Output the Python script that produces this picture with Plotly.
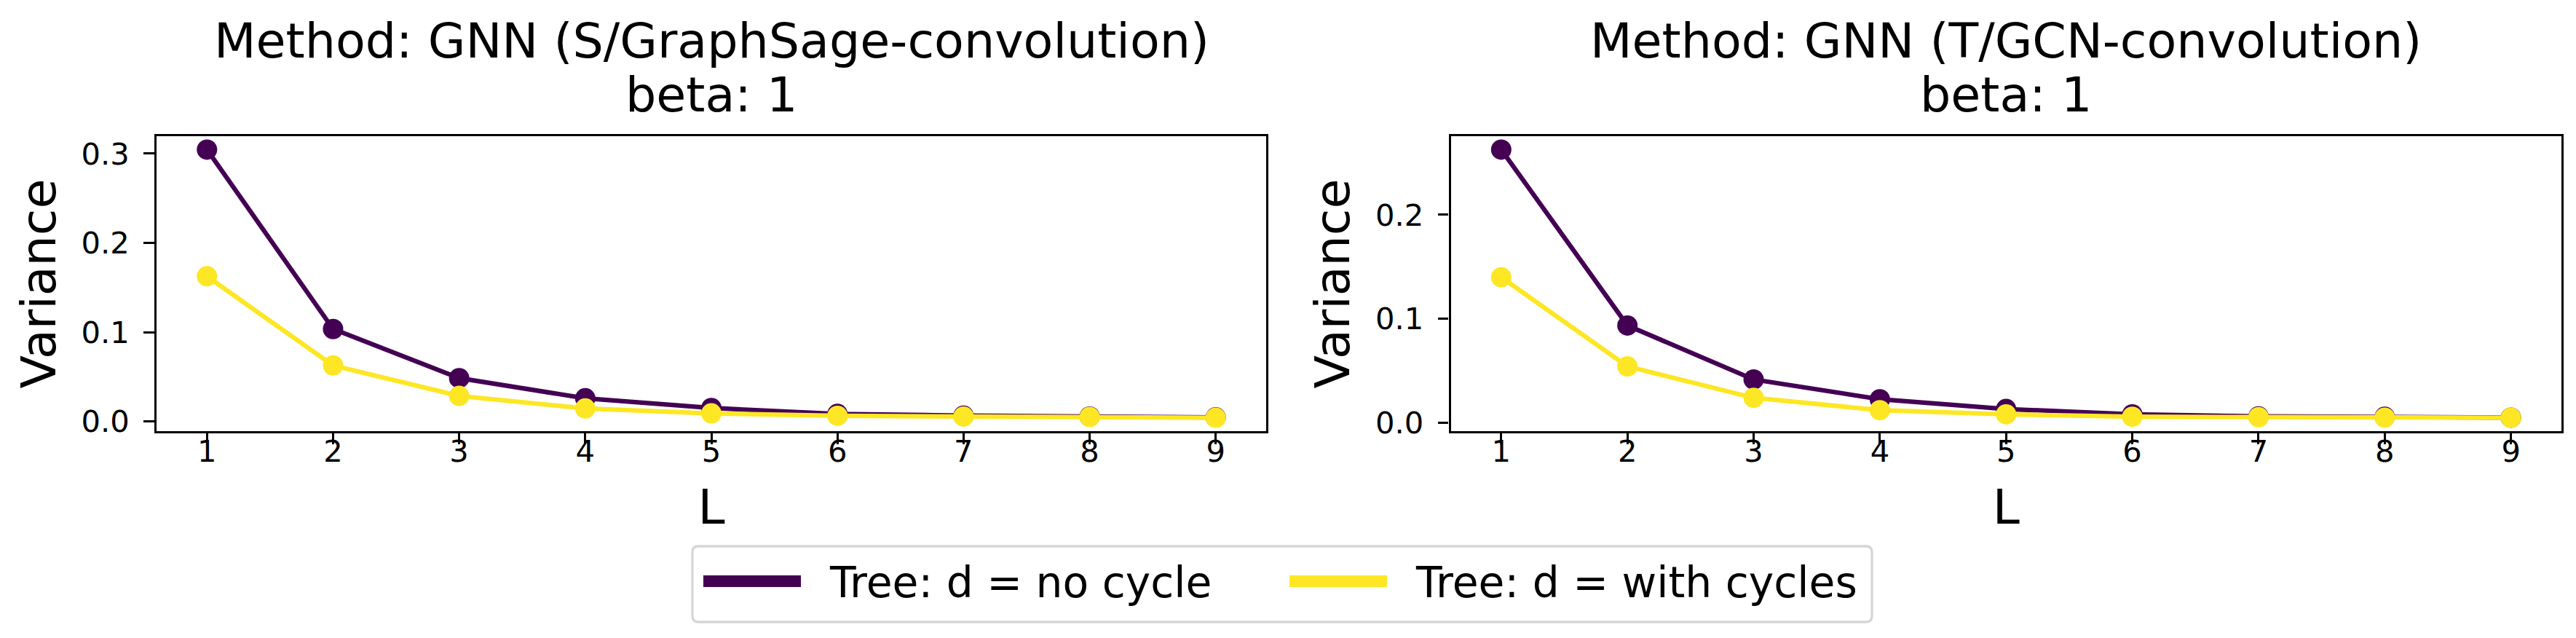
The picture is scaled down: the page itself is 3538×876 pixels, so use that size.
import plotly.graph_objects as go

# data
layers = [1, 2, 3, 4, 5, 6, 7, 8, 9]

sage_no_cycle = [0.3045, 0.1035, 0.0485, 0.0259, 0.0150, 0.0084, 0.0065, 0.0055, 0.0045]
sage_with_cycles = [0.1626, 0.0627, 0.0286, 0.0145, 0.0090, 0.0063, 0.0055, 0.0049, 0.0041]

gcn_no_cycle = [0.2627, 0.0936, 0.0417, 0.0227, 0.0133, 0.0082, 0.0062, 0.0058, 0.0050]
gcn_with_cycles = [0.1400, 0.0543, 0.0241, 0.0122, 0.0082, 0.0059, 0.0055, 0.0050, 0.0049]

panel_titles = ["Method: GNN (S/GraphSage-convolution)", "Method: GNN (T/GCN-convolution)"]
beta_label = "beta: 1"
series_names = ["Tree: d = no cycle", "Tree: d = with cycles"]
colors = ["#440154", "#fde725"]

FONT = "DejaVu Sans"
W, H = 3538, 876


def padded(vals, frac=0.05):
    lo, hi = min(vals), max(vals)
    p = (hi - lo) * frac
    return [lo - p, hi + p]


def px(x):
    return x / W


def py(y):
    # pixel row (from top) -> paper y
    return 1 - y / H


fig = go.Figure()

panels = [
    ("x", "y", sage_no_cycle, sage_with_cycles),
    ("x2", "y2", gcn_no_cycle, gcn_with_cycles),
]
for xa, ya, no_cyc, with_cyc in panels:
    for name, vals, col in zip(series_names, [no_cyc, with_cyc], colors):
        fig.add_trace(go.Scatter(
            x=layers, y=vals, xaxis=xa, yaxis=ya,
            mode="lines+markers", name=name, showlegend=False,
            line=dict(color=col, width=6.25),
            marker=dict(color=col, size=28),
        ))

axis_common = dict(
    showline=True, mirror=True, linecolor="black", linewidth=3.3,
    ticks="outside", ticklen=14.6, tickwidth=3.3, tickcolor="black",
    showgrid=False, zeroline=False,
    tickfont=dict(family=FONT, size=41.7, color="black"),
    automargin=False,
)
xaxis_extra = dict(ticklabelstandoff=-26,
                   title=dict(text="L", font=dict(size=66.7), standoff=30))
yaxis_extra = dict(ticklabelstandoff=11, dtick=0.1, tick0=0, tickformat=".1f",
                   title=dict(text="Variance", font=dict(size=66.7), standoff=14))

xdoms = [[px(207), px(1731)], [px(1984.5), px(3510)]]
ydom = [py(584), py(179)]

fig.update_layout(
    width=W, height=H,
    margin=dict(l=0, r=0, t=0, b=0),
    paper_bgcolor="white", plot_bgcolor="white",
    font=dict(family=FONT, color="black"),
    showlegend=False,
    xaxis=dict(domain=xdoms[0], range=padded(layers), tickvals=layers,
               anchor="y", **axis_common, **xaxis_extra),
    yaxis=dict(domain=ydom, range=padded(sage_no_cycle + sage_with_cycles),
               anchor="x", **axis_common, **yaxis_extra),
    xaxis2=dict(domain=xdoms[1], range=padded(layers), tickvals=layers,
                anchor="y2", **axis_common, **xaxis_extra),
    yaxis2=dict(domain=ydom, range=padded(gcn_no_cycle + gcn_with_cycles),
                anchor="x2", **axis_common, **yaxis_extra),
)

# two-line panel titles
for i, title in enumerate(panel_titles):
    xref = "x domain" if i == 0 else "x2 domain"
    fig.add_annotation(text=title, xref=xref, x=0.5, yref="paper",
                       y=py(89), yanchor="bottom", showarrow=False,
                       font=dict(family=FONT, size=66.7, color="black"))
    fig.add_annotation(text=beta_label, xref=xref, x=0.5, yref="paper",
                       y=py(163), yanchor="bottom", showarrow=False,
                       font=dict(family=FONT, size=66.7, color="black"))

# figure legend (matplotlib style: rounded light-grey frame, thick handles)
box_l, box_r, box_t, box_b, rad = 943, 2563, 742, 846, 8
frame = (
    f"M{px(box_l + rad)},{py(box_t)} L{px(box_r - rad)},{py(box_t)} "
    f"Q{px(box_r)},{py(box_t)} {px(box_r)},{py(box_t + rad)} "
    f"L{px(box_r)},{py(box_b - rad)} "
    f"Q{px(box_r)},{py(box_b)} {px(box_r - rad)},{py(box_b)} "
    f"L{px(box_l + rad)},{py(box_b)} "
    f"Q{px(box_l)},{py(box_b)} {px(box_l)},{py(box_b - rad)} "
    f"L{px(box_l)},{py(box_t + rad)} "
    f"Q{px(box_l)},{py(box_t)} {px(box_l + rad)},{py(box_t)} Z"
)
fig.add_shape(type="path", path=frame, xref="paper", yref="paper",
              line=dict(color="#d6d6d6", width=3.3), fillcolor="white", layer="above")

handle_y = 790
handle_starts = [958, 1763]
handle_len = 134
text_gap = 37
for name, col, x0 in zip(series_names, colors, handle_starts):
    fig.add_shape(type="line", xref="paper", yref="paper",
                  x0=px(x0), x1=px(x0 + handle_len), y0=py(handle_y), y1=py(handle_y),
                  line=dict(color=col, width=16), layer="above")
    fig.add_annotation(text=name, xref="paper", yref="paper",
                       x=px(x0 + handle_len + text_gap), xanchor="left",
                       y=py(handle_y + 2), yanchor="middle", showarrow=False,
                       font=dict(family=FONT, size=58.3, color="black"))

fig.write_html("out.html")
